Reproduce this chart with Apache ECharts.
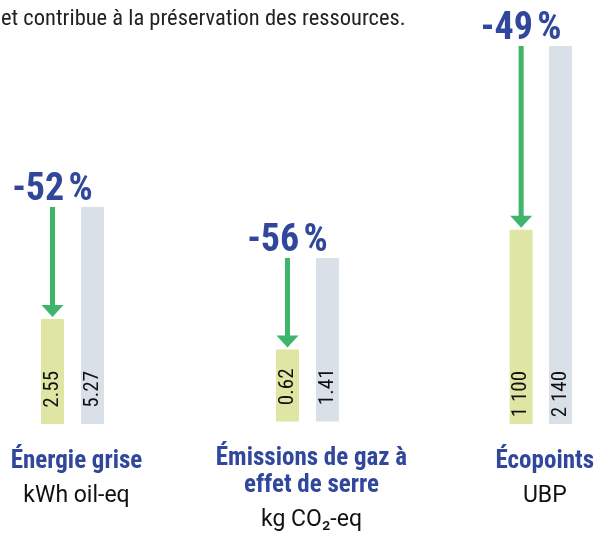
<!DOCTYPE html>
<html>
<head>
<meta charset="utf-8">
<script src="https://cdn.jsdelivr.net/npm/echarts@6/dist/echarts.min.js"></script>
<style>
  html, body { margin: 0; padding: 0; background: #fff; }
  #chart { width: 597px; height: 533px; }
</style>
</head>
<body>
<div id="chart"></div>
<script>
// valeurs : nouveau (vert) vs ancien (gris)
var titles = ['Énergie grise', 'Émissions de gaz à\neffet de serre', 'Écopoints'];
var units = ['kWh oil-eq', 'kg CO₂-eq', 'UBP'];
var newValues = [2.55, 0.62, 1100];
var oldValues = [5.27, 1.41, 2140];

var FONT = '"Roboto Condensed", "DejaVu Sans Condensed", sans-serif';
var FONT_UNIT = 'Roboto, "DejaVu Sans", sans-serif';
var BLUE = '#31479b';
var ARROW = '#3fb56c';

// mise en page des trois groupes
var gridLeft = [32.5, 267.5, 501.5];
var gridTop = [207, 258, 46];

function fmt(v) {
    var s = String(v);
    if (v >= 1000) {
        s = s.replace(/\B(?=(\d{3})+(?!\d))/g, ' ');
    }
    return s;
}

function pct(i) {
    var p = Math.round((newValues[i] - oldValues[i]) / oldValues[i] * 100);
    return p + '\u202f%';
}

var grids = [], xAxes = [], yAxes = [], series = [];

titles.forEach(function (t, i) {
    grids.push({ left: gridLeft[i], width: 80, top: gridTop[i], bottom: 109 });

    var lines = t.split('\n').map(function (l) { return '{t|' + l + '}'; });
    lines.push('{u|' + units[i] + '}');

    xAxes.push({
        type: 'category',
        gridIndex: i,
        data: ['new', 'old'],
        axisLine: { show: false },
        axisTick: { show: false },
        axisLabel: { show: false },
        name: lines.join('\n'),
        nameLocation: 'middle',
        nameGap: 24,
        nameTextStyle: {
            padding: [0, 0, 0, 8],
            rich: {
                t: { fontFamily: FONT, fontSize: 25, fontWeight: 'bold', color: BLUE, lineHeight: 27, align: 'center' },
                u: { fontFamily: FONT_UNIT, fontSize: 23, color: '#111', lineHeight: 42, align: 'center' }
            }
        }
    });

    yAxes.push({
        type: 'value',
        gridIndex: i,
        min: 0,
        max: 'dataMax',
        show: false,
        splitLine: { show: false }
    });

    series.push({
        type: 'bar',
        xAxisIndex: i,
        yAxisIndex: i,
        barWidth: 23,
        silent: true,
        data: [
            { value: newValues[i], itemStyle: { color: '#dfe6a4' } },
            { value: oldValues[i], itemStyle: { color: '#d9e0e7' } }
        ],
        label: {
            show: true,
            position: 'insideBottom',
            rotate: 90,
            align: 'right',
            verticalAlign: 'middle',
            distance: 53,
            fontFamily: FONT,
            fontSize: 21,
            color: '#111',
            formatter: function (p) { return fmt(p.value); }
        }
    });

    // flèche de l'ancien niveau vers le nouveau + pourcentage
    series.push({
        type: 'custom',
        xAxisIndex: i,
        yAxisIndex: i,
        silent: true,
        z: 5,
        encode: { x: 0, y: [1, 2] },
        data: [[0, oldValues[i], newValues[i], i]],
        renderItem: function (params, api) {
            var p1 = api.coord([api.value(0), api.value(1)]);
            var p2 = api.coord([api.value(0), api.value(2)]);
            var x = p1[0];
            var tipY = p2[1] - 2;
            var head = 12;
            return {
                type: 'group',
                children: [
                    {
                        type: 'line',
                        shape: { x1: x, y1: p1[1], x2: x, y2: tipY - head + 1 },
                        style: { stroke: ARROW, lineWidth: 5 }
                    },
                    {
                        type: 'polygon',
                        shape: { points: [[x - 11, tipY - head], [x + 11, tipY - head], [x, tipY]] },
                        style: { fill: ARROW }
                    },
                    {
                        type: 'text',
                        x: x,
                        y: p1[1] - 17,
                        style: {
                            text: pct(api.value(3)),
                            fontFamily: FONT,
                            fontSize: 38,
                            fontWeight: 'bold',
                            fill: BLUE,
                            align: 'center',
                            verticalAlign: 'middle'
                        }
                    }
                ]
            };
        }
    });
});

var chart = echarts.init(document.getElementById('chart'));
chart.setOption({
    animation: false,
    backgroundColor: '#fff',
    graphic: [{
        type: 'text',
        left: 1,
        top: 8,
        style: {
            text: 'et contribue à la préservation des ressources.',
            fontFamily: FONT,
            fontSize: 22.5,
            fill: '#222'
        }
    }],
    grid: grids,
    xAxis: xAxes,
    yAxis: yAxes,
    series: series
});
</script>
</body>
</html>
